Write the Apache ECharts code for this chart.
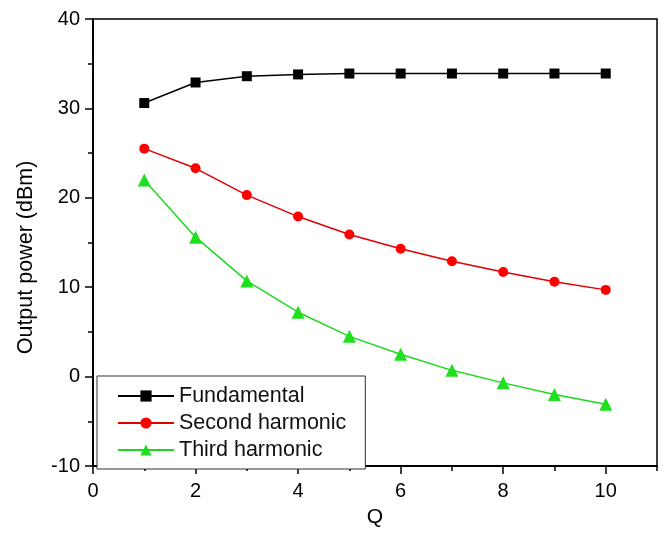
<!DOCTYPE html>
<html>
<head>
<meta charset="utf-8">
<script src="https://cdn.jsdelivr.net/npm/echarts@6/dist/echarts.min.js"></script>
<style>
    html, body { margin: 0; padding: 0; background: #fff; }
    #chart { width: 664px; height: 533px; }
</style>
</head>
<body>
<div id="chart"></div>
<script>
    // data
    var qValues = [1, 2, 3, 4, 5, 6, 7, 8, 9, 10];
    var fundamental = [30.6, 32.9, 33.6, 33.8, 33.9, 33.9, 33.9, 33.9, 33.9, 33.9];
    var secondHarmonic = [25.5, 23.3, 20.3, 17.9, 15.9, 14.3, 12.9, 11.7, 10.6, 9.7];
    var thirdHarmonic = [22.0, 15.6, 10.7, 7.2, 4.5, 2.5, 0.7, -0.7, -2.0, -3.1];
    var xMajorTicks = [0, 2, 4, 6, 8, 10];
    var xMinorTicks = [1, 3, 5, 7, 9, 11];

    function pairs(ys) {
        return qValues.map(function (q, i) { return [q, ys[i]]; });
    }

    var font = 'Liberation Sans, Arial, sans-serif';

    var option = {
        animation: false,
        backgroundColor: '#fff',
        grid: {
            left: 93,
            top: 19,
            right: 7,
            bottom: 61,
            show: true,
            borderColor: '#000',
            borderWidth: 1.5
        },
        legend: {
            orient: 'vertical',
            left: 97,
            top: 376,
            padding: [9, 19, 8, 20],
            itemGap: 5,
            itemWidth: 56,
            itemHeight: 14,
            backgroundColor: '#fff',
            borderColor: '#333',
            borderWidth: 1,
            borderRadius: 0,
            textStyle: { fontFamily: font, fontSize: 21.5, color: '#111' },
            data: ['Fundamental', 'Second harmonic', 'Third harmonic']
        },
        xAxis: [
            {
                type: 'value',
                min: 0,
                max: 11,
                name: 'Q',
                nameLocation: 'middle',
                nameGap: 41,
                nameTextStyle: { fontFamily: font, fontSize: 21, color: '#000' },
                axisLine: { show: true, onZero: false, lineStyle: { color: '#000', width: 2 } },
                axisTick: { show: true, customValues: xMajorTicks, length: 8, lineStyle: { color: '#000', width: 1.5 } },
                axisLabel: { customValues: xMajorTicks, margin: 15, fontFamily: font, fontSize: 20, color: '#000' },
                splitLine: { show: false }
            },
            {
                type: 'value',
                position: 'bottom',
                min: 0,
                max: 11,
                axisLine: { show: false, onZero: false },
                axisTick: { show: true, customValues: xMinorTicks, length: 5, lineStyle: { color: '#000', width: 1.5 } },
                axisLabel: { show: false },
                splitLine: { show: false }
            }
        ],
        yAxis: {
            type: 'value',
            min: -10,
            max: 40,
            interval: 10,
            name: 'Output power (dBm)',
            nameLocation: 'middle',
            nameGap: 56,
            nameTextStyle: { fontFamily: font, fontSize: 21.5, color: '#000', padding: [0, 30, 0, 0] },
            axisLine: { show: true, onZero: false, lineStyle: { color: '#000', width: 2 } },
            axisTick: { show: true, length: 8, lineStyle: { color: '#000', width: 1.5 } },
            minorTick: { show: true, splitNumber: 2, length: 5, lineStyle: { color: '#000', width: 1.5 } },
            axisLabel: { margin: 13, fontFamily: font, fontSize: 20, color: '#000' },
            splitLine: { show: false }
        },
        series: [
            {
                name: 'Fundamental',
                type: 'line',
                data: pairs(fundamental),
                symbol: 'rect',
                symbolSize: 10,
                lineStyle: { color: '#000', width: 1.5 },
                itemStyle: { color: '#000' }
            },
            {
                name: 'Second harmonic',
                type: 'line',
                data: pairs(secondHarmonic),
                symbol: 'circle',
                symbolSize: 10,
                lineStyle: { color: '#e00000', width: 1.5 },
                itemStyle: { color: '#ff0000' }
            },
            {
                name: 'Third harmonic',
                type: 'line',
                data: pairs(thirdHarmonic),
                symbol: 'triangle',
                symbolSize: 13,
                lineStyle: { color: '#1ed81e', width: 1.5 },
                itemStyle: { color: '#1ee01e' }
            }
        ]
    };

    var chart = echarts.init(document.getElementById('chart'));
    chart.setOption(option);
</script>
</body>
</html>
